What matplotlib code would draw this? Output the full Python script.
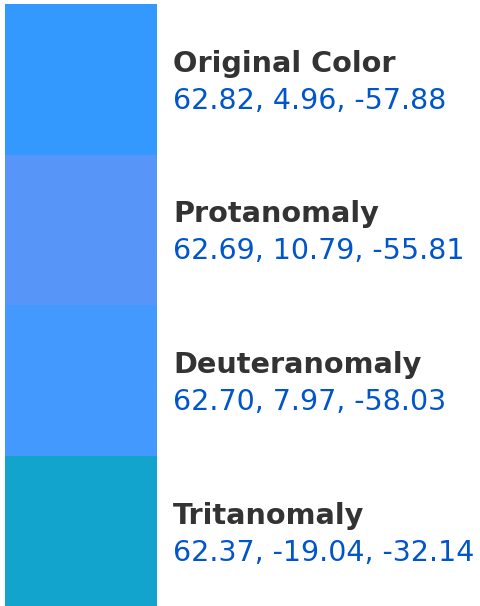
import matplotlib.pyplot as plt

names = ['Original Color', 'Protanomaly', 'Deuteranomaly', 'Tritanomaly']
swatch_colors = ['#3399FF', '#5895F9', '#4499FF', '#12A4CD']
lab_values = [
    (62.82, 4.96, -57.88),
    (62.69, 10.79, -55.81),
    (62.70, 7.97, -58.03),
    (62.37, -19.04, -32.14),
]

fig = plt.figure(figsize=(4.8, 6.06), dpi=100)
ax = fig.add_axes([0, 0, 1, 1])
ax.set_xlim(0, 480)
row_px = 602 / 4
ax.set_ylim(len(names), -4 / row_px)
ax.axis('off')

rows = range(len(names))
ax.barh(rows, 152, left=5, height=1.0, align='edge', color=swatch_colors, linewidth=0)

for i, (name, vals) in enumerate(zip(names, lab_values)):
    ax.text(173, i + 68 / row_px, name, fontsize=20.7, fontweight='bold',
            color='#333333', va='baseline', ha='left')
    ax.text(173, i + 105 / row_px, ', '.join(f'{v:.2f}' for v in vals),
            fontsize=20.5, color='#0055CC', va='baseline', ha='left')

fig.savefig('out.png', dpi=100)
